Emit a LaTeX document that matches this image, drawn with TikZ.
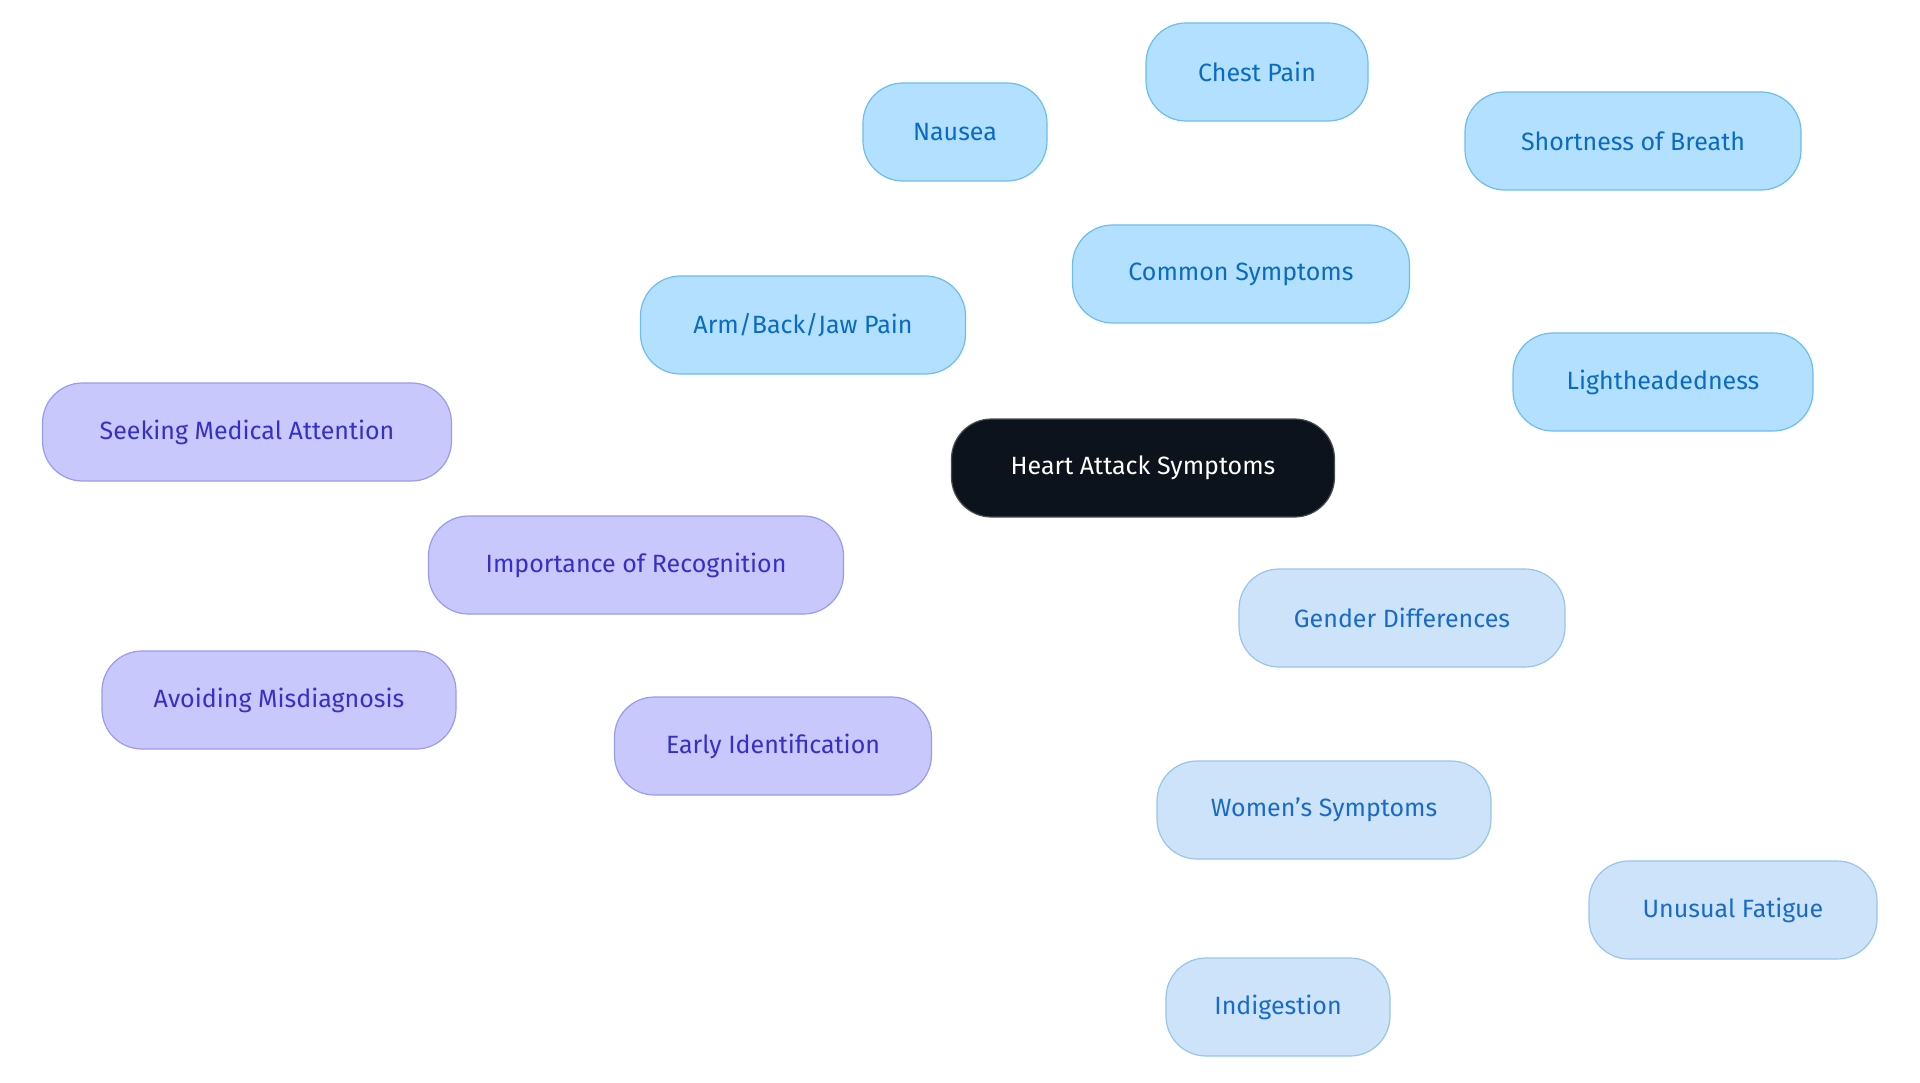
\documentclass[tikz,border=0pt]{standalone}
\usepackage{fontspec}
\setmainfont{Fira Sans}
\begin{document}
\begin{tikzpicture}[x=1pt,y=-1pt,
  base/.style={rounded corners=40pt,line width=1.2pt,minimum height=98pt,inner sep=0pt,font=\fontsize{25}{30}\selectfont,anchor=center},
  root/.style={base,fill=black!80!blue!60!black,fill=[HTML]0D131C,draw=[HTML]3A3F45,text=white},
  blu/.style={base,fill=bluef,draw=blued,text=bluet},
  pur/.style={base,fill=purf,draw=purd,text=purt},
  lbl/.style={base,fill=lbf,draw=lbd,text=lbt},
  eb/.style={draw=bluee,line width=3pt},
  ep/.style={draw=pure,line width=3pt},
  el/.style={draw=lbe,line width=3pt}]
\definecolor{rootf}{HTML}{0D131C}
\definecolor{bluef}{HTML}{B3E0FF}\definecolor{blued}{HTML}{6CBDF0}\definecolor{bluet}{HTML}{0A6BC4}\definecolor{bluee}{HTML}{6DB9EC}
\definecolor{purf}{HTML}{C8C8FC}\definecolor{purd}{HTML}{9A9AF0}\definecolor{purt}{HTML}{3730C8}\definecolor{pure}{HTML}{9E9EF0}
\definecolor{lbf}{HTML}{CCE3FA}\definecolor{lbd}{HTML}{99C4EC}\definecolor{lbt}{HTML}{1A6BC9}\definecolor{lbe}{HTML}{99C2EE}
\useasboundingbox (0,0) rectangle (1920,1083);
\tikzset{root/.style={base,fill=rootf,draw=gray!60!black,text=white}}
\node[root,minimum width=383pt] (h) at (1143,468) {Heart Attack Symptoms};
\node[blu,minimum width=337pt] (cs) at (1241,274) {Common Symptoms};
\node[blu,minimum width=222pt] (cp) at (1257,72) {Chest Pain};
\node[blu,minimum width=184pt] (na) at (955,132) {Nausea};
\node[blu,minimum width=336pt] (sb) at (1633,141) {Shortness of Breath};
\node[blu,minimum width=325pt] (ab) at (803,325) {Arm/Back/Jaw Pain};
\node[blu,minimum width=300pt] (lh) at (1663,382) {Lightheadedness};
\node[pur,minimum width=415pt] (ir) at (636,565) {Importance of Recognition};
\node[pur,minimum width=409pt] (sm) at (247,432) {Seeking Medical Attention};
\node[pur,minimum width=354pt] (am) at (279,700) {Avoiding Misdiagnosis};
\node[pur,minimum width=317pt] (ei) at (773,746) {Early Identification};
\node[lbl,minimum width=326pt] (gd) at (1402,618) {Gender Differences};
\node[lbl,minimum width=334pt] (ws) at (1324,810) {Women’s Symptoms};
\node[lbl,minimum width=288pt] (uf) at (1733,910) {Unusual Fatigue};
\node[lbl,minimum width=224pt] (ig) at (1278,1007) {Indigestion};
\begin{scope}[on background layer/.try]
\end{scope}
\end{tikzpicture}
\end{document}
